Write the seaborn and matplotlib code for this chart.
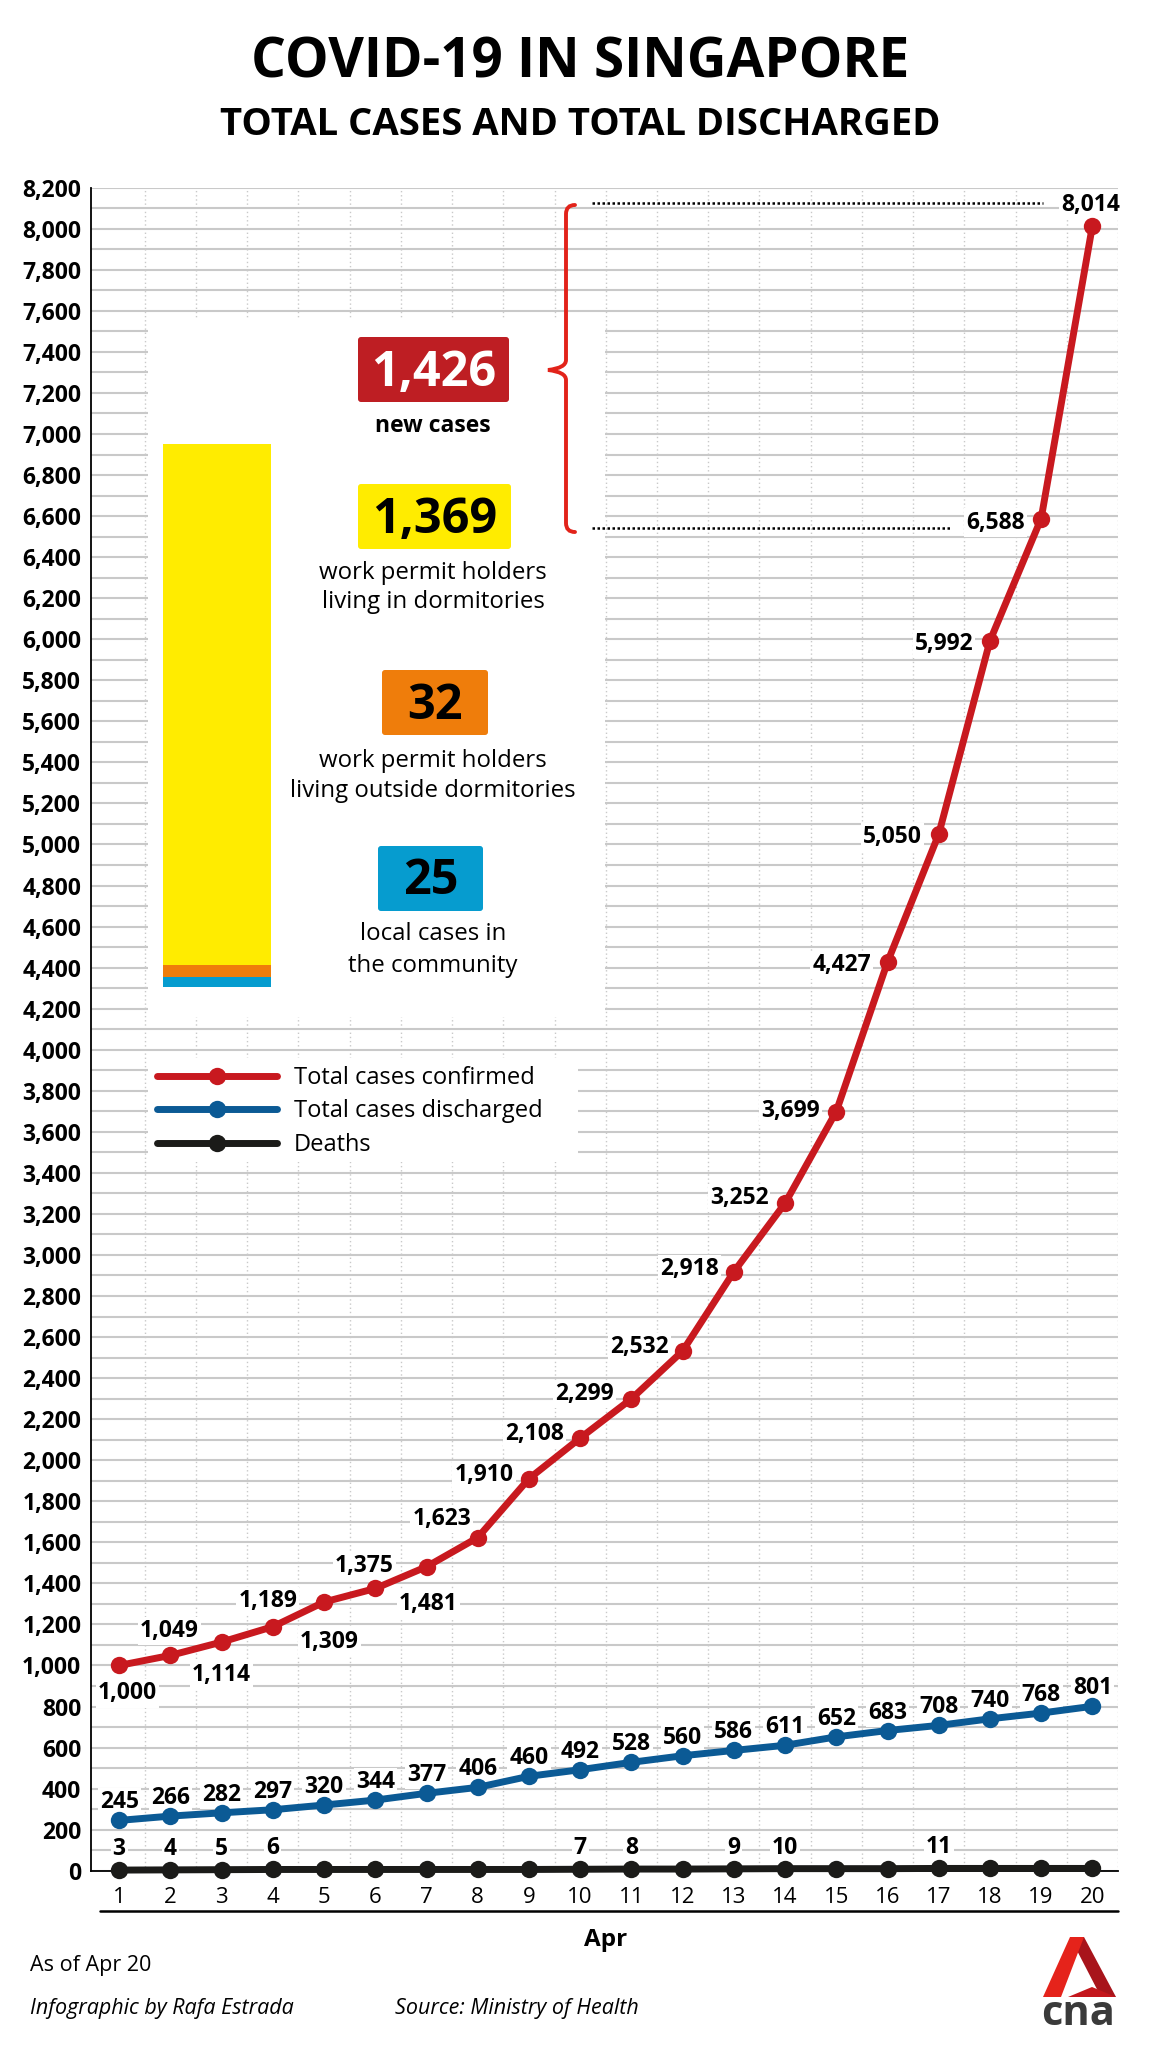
import numpy as np
import pandas as pd
import seaborn as sns
import matplotlib.pyplot as plt
from matplotlib.patches import Rectangle, FancyBboxPatch, Polygon, PathPatch
from matplotlib.path import Path
from matplotlib.lines import Line2D
from matplotlib.transforms import Affine2D
from matplotlib.ticker import FuncFormatter

# Data (Singapore, 1-20 April 2020)
days = list(range(1, 21))
total_confirmed = [1000, 1049, 1114, 1189, 1309, 1375, 1481, 1623, 1910, 2108,
                   2299, 2532, 2918, 3252, 3699, 4427, 5050, 5992, 6588, 8014]
total_discharged = [245, 266, 282, 297, 320, 344, 377, 406, 460, 492,
                    528, 560, 586, 611, 652, 683, 708, 740, 768, 801]
deaths = [3, 4, 5, 6, 6, 6, 6, 6, 6, 7, 8, 8, 9, 10, 10, 10, 11, 11, 11, 11]

new_cases = 1426
breakdown_values = [25, 32, 1369]   # community, outside dorms, dorms
breakdown_texts = [["local cases in", "the community"],
                   ["work permit holders", "living outside dormitories"],
                   ["work permit holders", "living in dormitories"]]

# colours
RED = '#C8191F'
BLUE = '#0B5A95'
BLACK = '#1B1B19'
BOX_RED = '#BE1E23'
YELLOW = '#FFEC00'
ORANGE = '#EF7D0B'
LIGHT_BLUE = '#069CCF'
BRACE_RED = '#E2231A'
GRID = '#C9C9C9'

W, H = 1152, 2048

sns.set_theme(style='white')
plt.rcParams['font.family'] = ['Open Sans', 'DejaVu Sans']

fig = plt.figure(figsize=(W / 100, H / 100), dpi=100)
fig.patch.set_facecolor('white')
# pixel coordinates measured from the top-left corner
pix = Affine2D().scale(1, -1).translate(0, H).scale(0.01) + fig.dpi_scale_trans

ax_left, ax_right, ax_top, ax_bottom = 91, 1118, 187.7, 1870.7
ax = fig.add_axes([ax_left / W, 1 - ax_bottom / H,
                   (ax_right - ax_left) / W, (ax_bottom - ax_top) / H])
ax.set_facecolor('white')

# white panels behind the inset and legend
ax.add_patch(Rectangle((148, 318), 457, 699, transform=pix, fc='white', ec='none', zorder=1))
ax.add_patch(Rectangle((148, 1058), 430, 104, transform=pix, fc='white', ec='none', zorder=1))

series = [('Total cases confirmed', total_confirmed, RED),
          ('Total cases discharged', total_discharged, BLUE),
          ('Deaths', deaths, BLACK)]
for name, vals, col in series:
    sns.lineplot(x=days, y=vals, ax=ax, color=col, linewidth=5, marker='o',
                 markersize=12.5, markeredgewidth=0, label=name, clip_on=False, zorder=3)

ax.set_xlim(0.45, 20.5)
ax.set_ylim(0, 8200)
ax.set_xticks(days)
ax.set_xticks(np.arange(1.5, 20.6, 1), minor=True)
ax.set_yticks(np.arange(0, 8201, 200))
ax.set_yticks(np.arange(100, 8200, 200), minor=True)
ax.yaxis.set_major_formatter(FuncFormatter(lambda v, p: f'{int(v):,}'))
ax.tick_params(axis='y', which='both', length=0, pad=7, labelsize=16.5, labelcolor='black')
ax.tick_params(axis='x', which='major', length=0, pad=12, labelsize=16, labelcolor='black')
ax.tick_params(axis='x', which='minor', length=4.5, width=1.2, color='black', direction='out')
for lbl in ax.get_yticklabels():
    lbl.set_fontweight('bold')
ax.set_xlabel('')
ax.set_ylabel('')

ax.set_axisbelow(True)
ax.grid(axis='y', which='both', color=GRID, linewidth=1.5)
ax.grid(axis='x', which='minor', color=GRID, linewidth=1.0, linestyle=(0, (1, 2)))
ax.grid(axis='x', which='major', visible=False)
for side in ['top', 'right']:
    ax.spines[side].set_visible(False)
for side in ['left', 'bottom']:
    ax.spines[side].set_color('black')
    ax.spines[side].set_linewidth(1.3)

# data labels (offsets in px, +y downwards)
red_offsets = [(8, 25), (-1, -27), (0, 30), (-5, -29), (5, 37), (-11, -25), (2, 34),
               (-36, -22), (-45, -7), (-46, -7), (-47, -8), (-43, -7), (-44, -6),
               (-46, -8), (-46, -4), (-46, 0), (-46, 0), (-46, 0), (-46, 1), (-2, -24)]
lab_kw = dict(textcoords='offset points', ha='center', va='center_baseline', fontsize=16.5,
              fontweight='bold', color='black', zorder=2.5,
              bbox=dict(fc='white', ec='none', pad=1.5))
for d, v, (dx, dy) in zip(days, total_confirmed, red_offsets):
    ax.annotate(f'{v:,}', (d, v), xytext=(dx * 0.72, -dy * 0.72), **lab_kw)
for d, v in zip(days, total_discharged):
    ax.annotate(f'{v:,}', (d, v), xytext=(0, 21 * 0.72), **lab_kw)
prev = None
for d, v in zip(days, deaths):
    if v != prev:
        ax.annotate(f'{v}', (d, v), xytext=(0, 24 * 0.72), **lab_kw)
    prev = v

# legend
handles, labels = ax.get_legend_handles_labels()
ax.legend(handles, labels, loc='upper left', bbox_to_anchor=(157 / W, 1 - 1066 / H),
          bbox_transform=fig.transFigure, frameon=False, fontsize=17,
          handlelength=5.1, handletextpad=0.7, labelspacing=0.4,
          borderpad=0, borderaxespad=0, labelcolor='black')

# stacked bar of today's new cases
bax = fig.add_axes([163 / W, 1 - 987 / H, 108 / W, 543 / H])
bottom = 0
for val, col in zip(breakdown_values, [LIGHT_BLUE, ORANGE, YELLOW]):
    bax.bar(0, val, bottom=bottom, width=1, color=col, linewidth=0)
    bottom += val
bax.set_xlim(-0.5, 0.5)
bax.set_ylim(0, new_cases)
bax.axis('off')

# callout boxes: (value, x0, y0, x1, y1, colour, text colour, baseline)
callouts = [(new_cases, 358, 337, 509, 402, BOX_RED, 'white', 386),
            (breakdown_values[2], 358, 484, 511, 549, YELLOW, 'black', 533),
            (breakdown_values[1], 382, 670, 488, 735, ORANGE, 'black', 719),
            (breakdown_values[0], 378, 846, 483, 911, LIGHT_BLUE, 'black', 894)]
for val, x0, y0, x1, y1, fc, tc, base in callouts:
    fig.add_artist(FancyBboxPatch((x0, y0), x1 - x0, y1 - y0, transform=pix,
                                  boxstyle='round,pad=0,rounding_size=3', fc=fc, ec='none'))
    fig.text((x0 + x1) / 2, base, f'{val:,}', transform=pix, ha='center', va='baseline',
             fontsize=35, fontweight='bold', color=tc)

fig.text(433, 432, 'new cases', transform=pix, ha='center', va='baseline',
         fontsize=16.5, fontweight='bold', color='black')
desc_baselines = [(940, 972), (767, 797), (579, 608)]
for lines, bases in zip(breakdown_texts, desc_baselines):
    for line, b in zip(lines, bases):
        fig.text(433, b, line, transform=pix, ha='center', va='baseline',
                 fontsize=17.3, color='black')

# curly brace and dotted leaders
verts = [(575, 205), (566, 205), (566, 214), (566, 360), (566, 368), (548, 370),
         (566, 372), (566, 380), (566, 523), (566, 532), (575, 532)]
codes = [Path.MOVETO, Path.CURVE3, Path.CURVE3, Path.LINETO, Path.CURVE3, Path.CURVE3,
         Path.CURVE3, Path.CURVE3, Path.LINETO, Path.CURVE3, Path.CURVE3]
fig.add_artist(PathPatch(Path(verts, codes), transform=pix, fill=False,
                         ec=BRACE_RED, lw=2.8, capstyle='round'))
fig.add_artist(Line2D([592, 1043], [203, 203], transform=pix, color='black',
                      lw=1.8, linestyle=(0, (1, 1))))
fig.add_artist(Line2D([592, 951], [528, 528], transform=pix, color='black',
                      lw=1.8, linestyle=(0, (1, 1))))

# rule under the day numbers and the month label
fig.add_artist(Line2D([100, 1118], [1910.7, 1910.7], transform=pix, color='black', lw=1.8))
fig.text(606, 1946, 'Apr', transform=pix, ha='center', va='baseline',
         fontsize=17.5, fontweight='bold', color='black')

# titles
fig.text(580, 77, 'COVID-19 IN SINGAPORE', transform=pix, ha='center', va='baseline',
         fontsize=39.5, fontweight='bold', color='black')
fig.text(580, 135, 'TOTAL CASES AND TOTAL DISCHARGED', transform=pix, ha='center',
         va='baseline', fontsize=27.5, fontweight='bold', color='black')

# footer
fig.text(30, 1971, 'As of Apr 20', transform=pix, ha='left', va='baseline',
         fontsize=15.5, color='black')
fig.text(30, 2014, 'Infographic by Rafa Estrada', transform=pix, ha='left', va='baseline',
         fontsize=15.5, style='italic', color='black')
fig.text(395, 2014, 'Source: Ministry of Health', transform=pix, ha='left', va='baseline',
         fontsize=15.5, style='italic', color='black')

# cna logo
fig.add_artist(Polygon([(1070, 1937), (1084, 1937), (1116, 1997), (1101, 1997)],
                       transform=pix, fc='#A8141B', ec='none'))
fig.add_artist(Polygon([(1068, 1997), (1116, 1997), (1092, 1987)],
                       transform=pix, fc='#C4161C', ec='none'))
fig.add_artist(Polygon([(1070, 1937), (1084, 1937), (1061, 1997), (1043, 1997)],
                       transform=pix, fc='#E5231B', ec='none'))
fig.text(1078, 2025, 'cna', transform=pix, ha='center', va='baseline',
         fontsize=30, fontweight='bold', color='#3A3A3A')

fig.savefig('out.png', dpi=100, facecolor='white')
